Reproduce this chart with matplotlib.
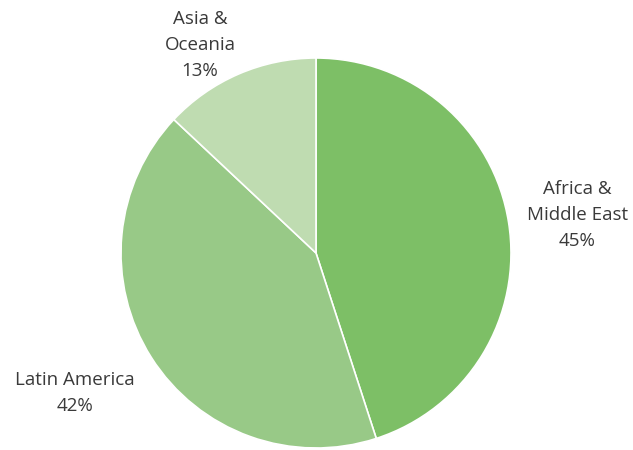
import matplotlib.pyplot as plt

regions = ['Africa &\nMiddle East', 'Latin America', 'Asia &\nOceania']
shares = [45, 42, 13]
colors = ['#7dbf66', '#98c987', '#bfdcb1']
# label anchor points in data units (pie radius = 1)
label_xy = [(1.339, 0.195), (-1.236, -0.718), (-0.595, 1.067)]

fig = plt.figure(figsize=(6.33, 4.5), dpi=100)
ax = fig.add_axes([0, 0, 1, 1])

ax.pie(shares, colors=colors, startangle=90, counterclock=False,
       wedgeprops=dict(edgecolor='white', linewidth=1.2))

for name, val, (x, y) in zip(regions, shares, label_xy):
    ax.text(x, y, f'{name}\n{val}%', ha='center', va='center',
            fontsize=13.5, color='#3a3a3a', linespacing=1.55,
            family=['Open Sans', 'DejaVu Sans'])

ax.set_aspect('auto')
ax.set_xlim(-316 / 195, (633 - 316) / 195)
ax.set_ylim((253 - 450) / 195, 253 / 195)
ax.axis('off')

fig.savefig('out.png', dpi=100)
